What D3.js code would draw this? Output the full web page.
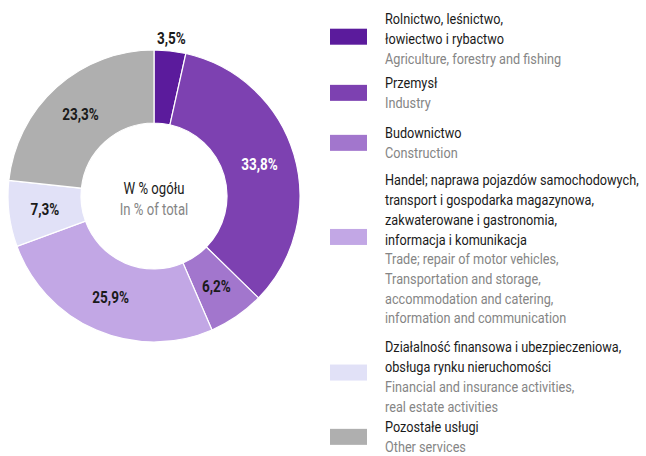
<!DOCTYPE html>
<html>
<head>
<meta charset="utf-8">
<script src="https://cdn.jsdelivr.net/npm/d3@7"></script>
<style>
  html, body { margin: 0; padding: 0; background: #fff; }
  svg { display: block; font-family: "Roboto", "Liberation Sans", sans-serif; }
</style>
</head>
<body>
<svg id="chart" width="646" height="456"></svg>
<script>
// Sectors of the economy, share of total (%)
const sectorsPl = [
  ["Rolnictwo, leśnictwo,", "łowiectwo i rybactwo"],
  ["Przemysł"],
  ["Budownictwo"],
  ["Handel; naprawa pojazdów samochodowych,", "transport i gospodarka magazynowa,", "zakwaterowane i gastronomia,", "informacja i komunikacja"],
  ["Działalność finansowa i ubezpieczeniowa,", "obsługa rynku nieruchomości"],
  ["Pozostałe usługi"]
];
const sectorsEn = [
  ["Agriculture, forestry and fishing"],
  ["Industry"],
  ["Construction"],
  ["Trade; repair of motor vehicles,", "Transportation and storage,", "accommodation and catering,", "information and communication"],
  ["Financial and insurance activities,", "real estate activities"],
  ["Other services"]
];
const shares = [3.5, 33.8, 6.2, 25.9, 7.3, 23.3];
const sliceColors = ["#5b1b9c", "#7d41b1", "#a276cd", "#c2a7e5", "#e1e1f7", "#afafaf"];
const centerTitle = ["W % ogółu", "In % of total"];

const svg = d3.select("#chart");
const cx = 154, cy = 196, rOuter = 146, rInner = 73;
const squeeze = 0.82; // narrow the typeface horizontally

// a text drawn condensed around its anchor point
function condensedText(parent, x, y, str, opts) {
  return parent.append("g").attr("transform", `translate(${x},${y}) scale(${squeeze},1)`)
    .append("text")
    .attr("text-anchor", opts.anchor || "start")
    .attr("dy", "0.35em")
    .attr("font-size", opts.size || 15.5)
    .attr("font-weight", opts.weight || "normal")
    .attr("fill", opts.fill || "#1a1a1a")
    .text(str);
}

const pie = d3.pie().sort(null).value(d => d)(shares);
const arc = d3.arc().innerRadius(rInner).outerRadius(rOuter);

const g = svg.append("g").attr("transform", `translate(${cx},${cy})`);
g.selectAll("path.slice")
  .data(pie)
  .join("path")
  .attr("class", "slice")
  .attr("d", arc)
  .attr("fill", (d, i) => sliceColors[i])
  .attr("stroke", "#fff")
  .attr("stroke-width", 1.2);

// value labels
const fmt = v => d3.format(".1f")(v).replace(".", ",") + "%";
const midArc = d3.arc().innerRadius(110).outerRadius(110);
const outerArc = d3.arc().innerRadius(rOuter + 13).outerRadius(rOuter + 13);
pie.forEach((d, i) => {
  const p = (d.endAngle - d.startAngle) < 0.3 ? outerArc.centroid(d) : midArc.centroid(d);
  condensedText(g, p[0], p[1], fmt(d.data), {
    anchor: "middle", size: 16.5, weight: "bold", fill: i === 1 ? "#fff" : "#1a1a1a"
  });
});

// center caption
condensedText(g, 0, -8, centerTitle[0], { anchor: "middle", size: 16, fill: "#1a1a1a" });
condensedText(g, 0, 13, centerTitle[1], { anchor: "middle", size: 16, fill: "#858585" });

// legend
const lineH = 19.7;
const legendTops = [19, 83, 133, 180, 347, 427];
const legend = svg.append("g");
sectorsPl.forEach((pl, i) => {
  const lines = pl.map(t => ({ t, c: "#1a1a1a" })).concat(sectorsEn[i].map(t => ({ t, c: "#858585" })));
  const top = legendTops[i];
  const n = lines.length;
  const mean = top + (n - 1) * lineH / 2;
  const swY = mean - (n - 2) * 2;
  legend.append("rect")
    .attr("x", 330).attr("y", swY - 8).attr("width", 37).attr("height", 16)
    .attr("fill", sliceColors[i]);
  lines.forEach((l, k) => {
    condensedText(legend, 385, top + k * lineH, l.t, { fill: l.c });
  });
});
</script>
</body>
</html>
